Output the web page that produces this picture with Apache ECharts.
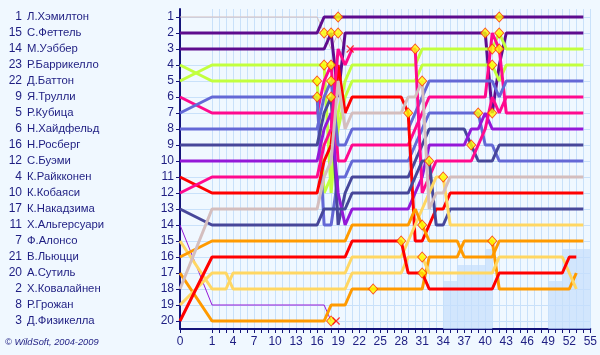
<!DOCTYPE html>
<html>
<head>
<meta charset="utf-8">
<script src="https://cdn.jsdelivr.net/npm/echarts@6/dist/echarts.min.js"></script>
<style>
   html, body { margin: 0; padding: 0; background: #F0F8FF; }
   #chartContainer { width: 600px; height: 355px; }
</style>
</head>
<body>
<div id="chartContainer"></div>
<script>

// cars in grid order (lap 0), with driver names
const carNums = [1, 15, 14, 23, 22, 9, 5, 6, 16, 12, 4, 10, 17, 11, 7, 21, 20, 2, 8, 3];
const driverNames = [
   "Л.Хэмилтон", "С.Феттель", "М.Уэббер", "Р.Баррикелло", "Д.Баттон",
   "Я.Трулли", "Р.Кубица", "Н.Хайдфельд", "Н.Росберг", "С.Буэми",
   "К.Райкконен", "К.Кобаяси", "К.Накадзима", "Х.Альгерсуари", "Ф.Алонсо",
   "В.Льюцци", "А.Сутиль", "Х.Ковалайнен", "Р.Грожан", "Д.Физикелла",
];

// running order (car numbers) at the end of each lap, lap 0 = grid
const lapOrder = [
   [1, 15, 14, 23, 22, 9, 5, 6, 16, 12, 4, 10, 17, 11, 7, 21, 20, 2, 8, 3],
   [1, 15, 14, 22, 23, 5, 9, 6, 16, 12, 10, 4, 2, 17, 21, 3, 8, 7, 11, 20],
   [1, 15, 14, 22, 23, 5, 9, 6, 16, 12, 10, 4, 2, 17, 21, 3, 8, 7, 11, 20],
   [1, 15, 14, 22, 23, 5, 9, 6, 16, 12, 10, 4, 2, 17, 21, 3, 8, 7, 11, 20],
   [1, 15, 14, 22, 23, 5, 9, 6, 16, 12, 10, 4, 2, 17, 21, 3, 7, 8, 11, 20],
   [1, 15, 14, 22, 23, 5, 9, 6, 16, 12, 10, 4, 2, 17, 21, 3, 7, 8, 11, 20],
   [1, 15, 14, 22, 23, 5, 9, 6, 16, 12, 10, 4, 2, 17, 21, 3, 7, 8, 11, 20],
   [1, 15, 14, 22, 23, 5, 9, 6, 16, 12, 10, 4, 2, 17, 21, 3, 7, 8, 11, 20],
   [1, 15, 14, 22, 23, 5, 9, 6, 16, 12, 10, 4, 2, 17, 21, 3, 7, 8, 11, 20],
   [1, 15, 14, 22, 23, 5, 9, 6, 16, 12, 10, 4, 2, 17, 21, 3, 7, 8, 11, 20],
   [1, 15, 14, 22, 23, 5, 9, 6, 16, 12, 10, 4, 2, 17, 21, 3, 7, 8, 11, 20],
   [1, 15, 14, 22, 23, 5, 9, 6, 16, 12, 10, 4, 2, 17, 21, 3, 7, 8, 11, 20],
   [1, 15, 14, 22, 23, 5, 9, 6, 16, 12, 10, 4, 2, 17, 21, 3, 7, 8, 11, 20],
   [1, 15, 14, 22, 23, 5, 9, 6, 16, 12, 10, 4, 2, 17, 21, 3, 7, 8, 11, 20],
   [1, 15, 14, 22, 23, 5, 9, 6, 16, 12, 10, 4, 2, 17, 21, 3, 7, 8, 11, 20],
   [1, 15, 14, 22, 23, 5, 9, 6, 16, 12, 10, 4, 2, 17, 21, 3, 7, 8, 11, 20],
   [1, 15, 14, 22, 23, 5, 9, 6, 16, 12, 10, 4, 2, 17, 21, 3, 7, 8, 11, 20],
   [15, 1, 14, 22, 9, 6, 16, 12, 10, 4, 2, 23, 17, 5, 21, 3, 7, 8, 11, 20],
   [15, 14, 1, 9, 6, 16, 12, 10, 4, 2, 23, 22, 17, 5, 21, 3, 7, 8, 20, 11],
   [15, 1, 10, 4, 2, 14, 22, 23, 6, 9, 5, 12, 17, 16, 21, 3, 7, 8, 20],
   [15, 14, 1, 10, 22, 23, 4, 2, 6, 9, 5, 16, 17, 12, 21, 3, 7, 8, 20],
   [15, 14, 10, 22, 23, 4, 2, 6, 9, 5, 16, 17, 12, 21, 3, 7, 8, 20],
   [15, 14, 10, 22, 23, 4, 2, 6, 9, 5, 16, 17, 12, 21, 3, 7, 8, 20],
   [15, 14, 10, 22, 23, 4, 2, 6, 9, 5, 16, 17, 12, 21, 3, 7, 8, 20],
   [15, 14, 10, 22, 23, 4, 2, 6, 9, 5, 16, 17, 12, 21, 3, 7, 8, 20],
   [15, 14, 10, 22, 23, 4, 2, 6, 9, 5, 16, 17, 12, 21, 3, 7, 8, 20],
   [15, 14, 10, 22, 23, 4, 2, 6, 9, 5, 16, 17, 12, 21, 3, 7, 8, 20],
   [15, 14, 10, 22, 23, 4, 2, 6, 9, 5, 16, 17, 12, 21, 3, 7, 8, 20],
   [15, 14, 10, 22, 23, 4, 2, 6, 9, 5, 16, 17, 12, 21, 3, 7, 8, 20],
   [15, 14, 10, 22, 23, 2, 4, 6, 9, 5, 16, 17, 12, 21, 7, 8, 3, 20],
   [15, 14, 10, 22, 23, 2, 6, 9, 5, 16, 17, 12, 21, 7, 4, 8, 3, 20],
   [15, 14, 22, 23, 2, 6, 9, 5, 16, 17, 12, 10, 7, 21, 4, 8, 3, 20],
   [15, 14, 22, 23, 6, 9, 5, 16, 12, 17, 10, 7, 2, 4, 21, 20, 8, 3],
   [15, 14, 22, 23, 6, 9, 5, 16, 12, 10, 7, 2, 4, 17, 21, 20, 8, 3],
   [15, 14, 22, 23, 6, 9, 5, 16, 12, 10, 7, 2, 4, 17, 21, 20, 8, 3],
   [15, 14, 22, 23, 6, 9, 5, 16, 12, 10, 2, 4, 17, 7, 21, 20, 8, 3],
   [15, 14, 22, 23, 6, 9, 5, 16, 12, 10, 2, 4, 17, 7, 21, 20, 8, 3],
   [15, 14, 22, 23, 6, 9, 5, 16, 12, 10, 2, 4, 17, 7, 20, 21, 8, 3],
   [15, 14, 22, 23, 6, 9, 5, 12, 16, 10, 2, 4, 17, 7, 20, 21, 8, 3],
   [15, 14, 22, 23, 6, 9, 5, 12, 10, 16, 2, 4, 17, 7, 20, 21, 8, 3],
   [15, 14, 22, 23, 6, 9, 12, 10, 5, 16, 2, 4, 17, 7, 20, 21, 8, 3],
   [15, 9, 22, 23, 6, 10, 14, 12, 5, 16, 2, 4, 17, 7, 20, 21, 8, 3],
   [15, 22, 9, 14, 23, 6, 10, 12, 16, 5, 2, 4, 17, 7, 21, 8, 3, 20],
   [15, 14, 22, 23, 6, 10, 9, 12, 16, 5, 2, 4, 17, 7, 21, 8, 3, 20],
   [15, 14, 22, 23, 6, 10, 9, 12, 16, 5, 2, 4, 17, 7, 21, 8, 3, 20],
   [15, 14, 22, 23, 6, 10, 9, 12, 16, 5, 2, 4, 17, 7, 21, 8, 3, 20],
   [15, 14, 22, 23, 6, 10, 9, 12, 16, 5, 2, 4, 17, 7, 21, 8, 3, 20],
   [15, 14, 22, 23, 6, 10, 9, 12, 16, 5, 2, 4, 17, 7, 21, 8, 3, 20],
   [15, 14, 22, 23, 6, 10, 9, 12, 16, 5, 2, 4, 17, 7, 21, 8, 3, 20],
   [15, 14, 22, 23, 6, 10, 9, 12, 16, 5, 2, 4, 17, 7, 21, 8, 3, 20],
   [15, 14, 22, 23, 6, 10, 9, 12, 16, 5, 2, 4, 17, 7, 21, 8, 3, 20],
   [15, 14, 22, 23, 6, 10, 9, 12, 16, 5, 2, 4, 17, 7, 21, 8, 3, 20],
   [15, 14, 22, 23, 6, 10, 9, 12, 16, 5, 2, 4, 17, 7, 21, 3, 8, 20],
   [15, 14, 22, 23, 6, 10, 9, 12, 16, 5, 2, 4, 17, 7, 21, 3, 20, 8],
   [15, 14, 22, 23, 6, 10, 9, 12, 16, 5, 2, 4, 17, 7, 21],
];

// pit stops: [car, lap]
const pitStops = [
   [23, 16], [5, 16], [1, 17], [22, 17], [14, 18], [9, 18], [6, 18], [16, 18],
   [11, 18], [15, 19], [1, 19], [20, 24], [3, 28], [4, 29], [10, 30], [2, 31],
   [21, 31], [8, 31], [3, 31], [17, 32], [7, 34], [16, 38], [5, 39], [14, 40],
   [22, 41], [23, 41], [14, 41], [20, 41], [15, 42], [22, 42], [9, 42],
];

// retirements: [car, last lap]
const retirements = [[1, 20], [11, 18]];

// shaded zone of lapped cars: from lap, to lap, number of lapped cars
const lappedFrom  = [34, 36, 40, 49, 51];
const lappedTo    = [36, 40, 41, 51, 55];
const lappedCount = [ 1,  2,  3,  1,  3];
const classifiedCars = 18;

const xLabelLaps = [0, 1, 4, 7, 10, 13, 16, 19, 22, 25, 28, 31, 34, 37, 40, 43, 46, 49, 52, 55];
const numLaps = 55;
const numPositions = 20;

// line colours, same order as carNums
const carColors = [
   "#D4BEBE", "#5E0C8E", "#5E0C8E", "#C2FF3E", "#C2FF3E",
   "#FF0A8E", "#6468D6", "#6468D6", "#47479A", "#9418D8",
   "#FF0000", "#FF0A8E", "#47479A", "#9418D8", "#FFD763",
   "#FF9A00", "#FF9A00", "#D4BEBE", "#FFD763", "#FF0000",
];

const textColor = "#1E1E82";
const axisColor = "#14147A";
const gridColor = "#C9E1FA";
const lapZeroWidth = 32 / 7;   // lap 0 gets a wider slot on the x axis

var i, lap;


function lapToX(lap)
{
   return lap === 0 ? 1 - lapZeroWidth : lap;
}

function positionOf(car, lap)
{
   if (!lapOrder[lap]) return null;
   const idx = lapOrder[lap].indexOf(car);
   return idx < 0 ? null : idx + 1;
}


function setupChart()
{
   const chart = echarts.init(document.getElementById('chartContainer'));

   const positions = [];
   for (i = 1; i <= numPositions; i++) positions.push(i);

   const tickLaps = [];
   for (lap = 0; lap <= numLaps; lap++) tickLaps.push(lapToX(lap));

   const retiredCars = retirements.map(r => r[0]);

   const series = [];

   // shaded zone of lapped cars, drawn as rectangles down to the axis
   const lappedData = [];
   for (i = 0; i < lappedFrom.length; i++)
   {
      lappedData.push([lappedFrom[i], lappedTo[i], classifiedCars - lappedCount[i] + 0.5]);
   }
   series.push(
   {
      type: 'custom',
      data: lappedData,
      silent: true,
      z: 1,
      renderItem: (params, api) =>
      {
         const p0 = api.coord([api.value(0), api.value(2)]);
         const p1 = api.coord([api.value(1), numPositions + 0.5]);
         return {
            type: 'rect',
            shape: { x: p0[0], y: p0[1], width: p1[0] - p0[0], height: p1[1] - p0[1] },
            style: { fill: 'rgba(196, 222, 252, 0.7)' },
         };
      },
   });

   // one line per car
   for (i = 0; i < carNums.length; i++)
   {
      const car = carNums[i];
      const pts = [];
      for (lap = 0; lap < lapOrder.length; lap++)
      {
         const p = positionOf(car, lap);
         if (p !== null) pts.push([lapToX(lap), p]);
      }
      series.push(
      {
         type: 'line',
         name: String(car),
         data: pts,
         symbol: 'none',
         lineStyle: { width: retiredCars.includes(car) ? 1 : 3, color: carColors[i] },
         z: 3,
      });
   }

   // pit stop markers
   series.push(
   {
      type: 'scatter',
      data: pitStops.map(s => [lapToX(s[1]), positionOf(s[0], s[1])]),
      symbol: 'diamond',
      symbolSize: [9, 10],
      itemStyle: { color: '#FFFF00', borderColor: '#FF2A00', borderWidth: 1 },
      z: 5,
   });

   // retirement crosses
   series.push(
   {
      type: 'scatter',
      data: retirements.map(r => [lapToX(r[1]), positionOf(r[0], r[1])]),
      symbol: 'path://M0,0L8,8M8,0L0,8',
      symbolSize: 7,
      symbolOffset: [5, 0],
      itemStyle: { color: 'none', borderColor: '#FF0000', borderWidth: 1.2 },
      z: 5,
   });

   const labelFont = { color: textColor, fontSize: 11, fontFamily: 'Liberation Sans' };

   const yBase =
   {
      type: 'value',
      inverse: true,
      min: 0.5,
      max: numPositions + 0.5,
      position: 'left',
   };

   const option =
   {
      animation: false,
      backgroundColor: '#F0F8FF',
      grid: { left: 180, right: 9, top: 9, bottom: 26 },
      xAxis:
      {
         type: 'value',
         min: lapToX(0),
         max: numLaps,
         axisLine: { onZero: false, lineStyle: { color: axisColor, width: 2 } },
         axisTick: { customValues: tickLaps, length: 4, lineStyle: { color: axisColor } },
         axisLabel: Object.assign(
         {
            customValues: xLabelLaps.map(lapToX),
            formatter: v => (v < 0.5 ? '0' : String(Math.round(v))),
            margin: 7,
         }, labelFont, { fontSize: 12 }),
         splitLine: { show: true, lineStyle: { color: gridColor, width: 1 } },
      },
      yAxis:
      [
         Object.assign({}, yBase,
         {
            axisLine: { show: true, onZero: false, lineStyle: { color: axisColor, width: 2 } },
            axisTick: { show: true, customValues: positions, length: 4, lineStyle: { color: axisColor } },
            axisLabel: Object.assign({ customValues: positions, margin: 6 }, labelFont, { fontSize: 12 }),
            splitLine: { show: true, lineStyle: { color: gridColor, width: 1 } },
         }),
         // car numbers column
         Object.assign({}, yBase,
         {
            axisLine: { show: false, onZero: false },
            axisTick: { show: false },
            splitLine: { show: false },
            axisLabel: Object.assign(
            {
               customValues: positions,
               formatter: v => String(carNums[v - 1]),
               align: 'right',
               margin: 158,
            }, labelFont, { fontSize: 12 }),
         }),
         // driver names column
         Object.assign({}, yBase,
         {
            axisLine: { show: false, onZero: false },
            axisTick: { show: false },
            splitLine: { show: false },
            axisLabel: Object.assign(
            {
               customValues: positions,
               formatter: v => driverNames[v - 1],
               align: 'left',
               margin: 153,
            }, labelFont, { fontSize: 11.3 }),
         }),
      ],
      graphic:
      [
         {
            type: 'text',
            left: 5,
            top: 338,
            style:
            {
               text: '© WildSoft, 2004-2009',
               font: 'italic 9.3px "Liberation Sans"',
               fill: textColor,
            },
         },
      ],
      series: series,
   };

   chart.setOption(option);
}


document.addEventListener('DOMContentLoaded', () =>
{
   setupChart();
});

</script>
</body>
</html>
